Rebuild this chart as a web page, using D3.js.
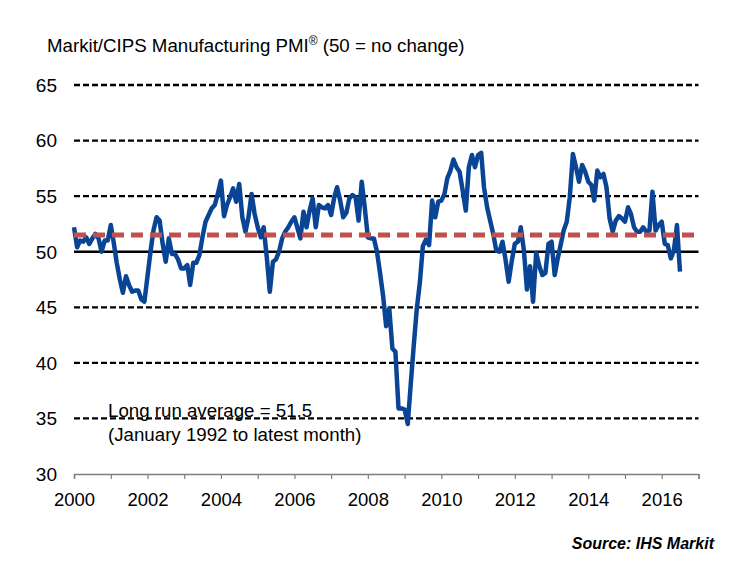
<!DOCTYPE html>
<html>
<head>
<meta charset="utf-8">
<script src="https://cdn.jsdelivr.net/npm/d3@7"></script>
<style>
  html, body { margin: 0; padding: 0; background: #fff; }
  svg { display: block; }
  text { font-family: "Liberation Sans", Arial, sans-serif; fill: #000; }
</style>
</head>
<body>
<svg id="chart" width="750" height="562"></svg>
<script>
// ---- Data (monthly, Jan 2000 .. Jul 2016) ----
const startYear = 2000;
const pmi2000 = [52.2, 50.4, 51.0, 50.9, 51.3, 50.7, 51.2, 51.6, 51.2, 50.0, 51.0, 51.0];
const pmi2001 = [52.4, 50.7, 49.0, 47.5, 46.3, 47.8, 47.0, 46.4, 46.5, 46.5, 45.7, 45.5];
const pmi2002 = [47.8, 50.1, 51.9, 53.1, 52.8, 50.7, 49.1, 51.2, 49.8, 49.8, 49.3, 48.5];
const pmi2003 = [48.5, 48.8, 47.0, 49.0, 49.0, 49.7, 51.3, 52.7, 53.3, 53.9, 54.2, 55.2];
const pmi2004 = [56.4, 53.2, 54.2, 54.9, 55.7, 54.5, 56.1, 53.1, 51.8, 53.1, 55.2, 53.4];
const pmi2005 = [52.2, 51.3, 52.2, 49.5, 46.4, 49.1, 49.3, 50.0, 51.2, 51.8, 52.2, 52.7];
const pmi2006 = [53.1, 52.1, 51.2, 53.6, 52.2, 53.7, 54.8, 52.2, 54.2, 54.0, 53.9, 54.2];
const pmi2007 = [53.3, 54.9, 55.8, 54.6, 53.1, 53.5, 54.8, 55.1, 54.9, 52.8, 56.3, 54.0];
const pmi2008 = [51.3, 51.2, 51.2, 50.0, 48.1, 46.0, 43.3, 44.9, 41.3, 41.0, 35.9, 35.9];
const pmi2009 = [35.8, 34.5, 37.9, 41.5, 44.8, 47.2, 50.5, 51.1, 50.6, 54.6, 53.1, 54.5];
const pmi2010 = [54.6, 55.2, 56.6, 57.3, 58.3, 57.6, 57.2, 55.5, 53.7, 57.6, 58.7, 57.6];
const pmi2011 = [58.7, 58.9, 55.8, 54.0, 52.8, 51.6, 50.1, 50.0, 50.9, 49.3, 47.3, 49.1];
const pmi2012 = [50.7, 50.9, 52.2, 50.1, 46.6, 48.7, 45.5, 49.9, 48.7, 47.9, 48.1, 50.7];
const pmi2013 = [50.9, 47.9, 49.3, 50.6, 51.9, 52.7, 54.9, 58.8, 57.6, 56.3, 57.8, 57.2];
const pmi2014 = [56.3, 56.0, 54.6, 57.3, 56.7, 57.0, 55.8, 53.0, 51.8, 52.8, 53.2, 53.0];
const pmi2015 = [52.7, 54.0, 53.4, 52.2, 51.8, 51.8, 52.2, 51.8, 51.9, 55.4, 51.9, 52.4];
const pmi2016 = [52.7, 50.7, 50.6, 49.4, 50.1, 52.4, 48.2];

const longRunAverage = 51.5;
const noChange = 50;
const yTicks = [30, 35, 40, 45, 50, 55, 60, 65];
const xTickYears = [2000, 2002, 2004, 2006, 2008, 2010, 2012, 2014, 2016];

const titleText = "Markit/CIPS Manufacturing PMI";
const titleRest = " (50 = no change)";
const noteLine1 = "Long run average = 51.5";
const noteLine2 = "(January 1992 to latest month)";
const sourceText = "Source: IHS Markit";

// ---- Build series ----
const allValues = [].concat(pmi2000, pmi2001, pmi2002, pmi2003, pmi2004, pmi2005,
  pmi2006, pmi2007, pmi2008, pmi2009, pmi2010, pmi2011, pmi2012, pmi2013, pmi2014,
  pmi2015, pmi2016);
const series = allValues.map((v, i) => ({ date: new Date(startYear, i, 1), value: v }));

// ---- Layout ----
const svg = d3.select("#chart");
const x = d3.scaleTime()
  .domain([new Date(2000, 0, 1), new Date(2017, 0, 1)])
  .range([74, 698.5]);
const y = d3.scaleLinear().domain([30, 65]).range([474, 85]);

const blue = "#0a4595";
const red = "#c0504d";

// Gridlines
svg.append("g").selectAll("line")
  .data(yTicks.filter(t => t !== 30))
  .join("line")
  .attr("x1", x.range()[0]).attr("x2", x.range()[1])
  .attr("y1", d => y(d)).attr("y2", d => y(d))
  .attr("stroke", "#000")
  .attr("stroke-width", d => d === noChange ? 2.6 : 2.3)
  .attr("stroke-dasharray", d => d === noChange ? null : "6,3");

// Y labels
svg.append("g").selectAll("text")
  .data(yTicks)
  .join("text")
  .attr("x", 57).attr("y", d => y(d))
  .attr("dy", "0.36em")
  .attr("text-anchor", "end")
  .attr("font-size", 19)
  .text(d => d);

// X axis
const xAxis = d3.axisBottom(x)
  .ticks(d3.timeYear.every(1))
  .tickSize(5)
  .tickFormat(d => xTickYears.includes(d.getFullYear()) ? d.getFullYear() : "");
const gx = svg.append("g").attr("transform", `translate(0,${y(30)})`).call(xAxis);
gx.select(".domain").attr("stroke", "#7f7f7f").attr("stroke-width", 1.5);
gx.selectAll(".tick line").attr("stroke", "#7f7f7f").attr("stroke-width", 1.2);
gx.selectAll(".tick text")
  .attr("font-family", "Liberation Sans, Arial, sans-serif")
  .attr("font-size", 18.5)
  .attr("fill", "#000")
  .attr("dy", 0)
  .attr("y", 32);

// PMI line
const line = d3.line().x(d => x(d.date)).y(d => y(d.value));
svg.append("path")
  .datum(series)
  .attr("fill", "none")
  .attr("stroke", blue)
  .attr("stroke-width", 4.5)
  .attr("stroke-linejoin", "round")
  .attr("d", line);

// Long run average line
svg.append("line")
  .attr("x1", x.range()[0]).attr("x2", x.range()[1])
  .attr("y1", y(longRunAverage)).attr("y2", y(longRunAverage))
  .attr("stroke", red)
  .attr("stroke-width", 5)
  .attr("stroke-dasharray", "12,7");

// Title
const title = svg.append("text")
  .attr("x", 47).attr("y", 52)
  .attr("font-size", 18.7);
title.append("tspan").text(titleText);
title.append("tspan").attr("font-size", 12).attr("dy", -7).text("®");
title.append("tspan").attr("dy", 7).text(titleRest);

// Annotation
svg.append("text").attr("x", 108).attr("y", 417).attr("font-size", 18.7).text(noteLine1);
svg.append("text").attr("x", 108).attr("y", 441).attr("font-size", 18.7).text(noteLine2);

// Source
svg.append("text")
  .attr("x", 714).attr("y", 549)
  .attr("text-anchor", "end")
  .attr("font-family", "Lato, 'Open Sans', sans-serif")
  .attr("font-weight", "bold")
  .attr("font-style", "italic")
  .attr("font-size", 16)
  .text(sourceText);
</script>
</body>
</html>
